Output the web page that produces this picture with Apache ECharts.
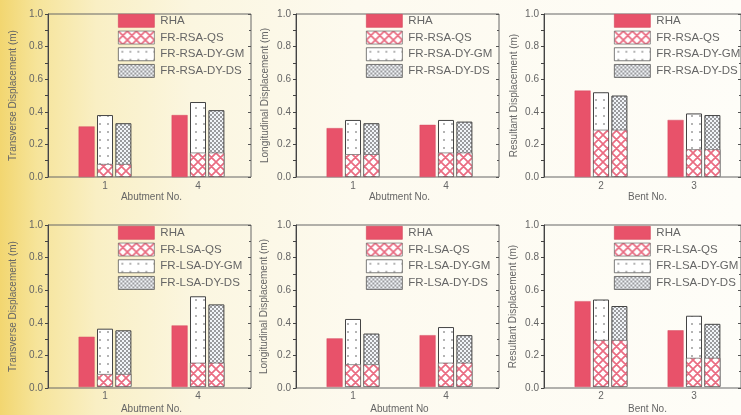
<!DOCTYPE html>
<html><head><meta charset="utf-8">
<script src="https://cdn.jsdelivr.net/npm/echarts@6/dist/echarts.min.js"></script>
<style>
html,body{margin:0;padding:0;width:741px;height:415px;overflow:hidden;
background:linear-gradient(to right,#f2d670 0%,#f6e49a 5%,#f9efc4 13%,#fbf6e0 26%,#fdfaef 48%,#fefdf8 100%);}
#c{width:741px;height:415px;}
</style></head><body><div id="c"></div>
<script>
// ---- data ----
const abutmentNos = ['1', '4'];
const bentNos = ['2', '3'];
const yTicks = [0.0, 0.2, 0.4, 0.6, 0.8, 1.0];

const legendRSA = ['RHA', 'FR-RSA-QS', 'FR-RSA-DY-GM', 'FR-RSA-DY-DS'];
const legendLSA = ['RHA', 'FR-LSA-QS', 'FR-LSA-DY-GM', 'FR-LSA-DY-DS'];

// RSA row
const rsaTransRHA = [0.31, 0.38];
const rsaTransQS  = [0.08, 0.15];
const rsaTransGM  = [0.38, 0.46];
const rsaTransDS  = [0.33, 0.41];

const rsaLongRHA = [0.30, 0.32];
const rsaLongQS  = [0.14, 0.15];
const rsaLongGM  = [0.35, 0.35];
const rsaLongDS  = [0.33, 0.34];

const rsaResRHA = [0.53, 0.35];
const rsaResQS  = [0.29, 0.17];
const rsaResGM  = [0.52, 0.39];
const rsaResDS  = [0.50, 0.38];

// LSA row
const lsaTransRHA = [0.31, 0.38];
const lsaTransQS  = [0.08, 0.15];
const lsaTransGM  = [0.36, 0.56];
const lsaTransDS  = [0.35, 0.51];

const lsaLongRHA = [0.30, 0.32];
const lsaLongQS  = [0.14, 0.15];
const lsaLongGM  = [0.42, 0.37];
const lsaLongDS  = [0.33, 0.32];

const lsaResRHA = [0.53, 0.35];
const lsaResQS  = [0.29, 0.18];
const lsaResGM  = [0.54, 0.44];
const lsaResDS  = [0.50, 0.39];

// ---- patterns ----
function tile(w, h, draw) {
  const c = document.createElement('canvas');
  c.width = w; c.height = h;
  draw(c.getContext('2d'));
  return c;
}
const crossTile = tile(9, 9, g => {
  g.fillStyle = '#ffffff'; g.fillRect(0, 0, 9, 9);
  g.strokeStyle = '#ea6c82'; g.lineWidth = 1.7;
  g.beginPath();
  for (const k of [-9, 0, 9]) {
    g.moveTo(k, 0); g.lineTo(k + 9, 9);
    g.moveTo(k + 9, 0); g.lineTo(k, 9);
  }
  g.stroke();
});
const sparseTile = tile(8, 8, g => {
  g.fillStyle = '#ffffff'; g.fillRect(0, 0, 8, 8);
  g.fillStyle = '#444';
  g.beginPath(); g.arc(4, 4, 0.75, 0, Math.PI * 2); g.fill();
});
const denseTile = tile(4, 4, g => {
  g.fillStyle = '#f2f5f9'; g.fillRect(0, 0, 4, 4);
  g.fillStyle = '#2a2a2a';
  g.beginPath(); g.arc(1, 1, 0.8, 0, Math.PI * 2); g.fill();
  g.beginPath(); g.arc(3, 3, 0.8, 0, Math.PI * 2); g.fill();
});
const RHA_COLOR = '#e8526a';
const QS_FILL = { image: crossTile, repeat: 'repeat' };
const GM_FILL = { image: sparseTile, repeat: 'repeat' };
const DS_FILL = { image: denseTile, repeat: 'repeat' };

// ---- panels ----
const panels = [
  { left: 48,  top: 14,  yName: 'Transverse Displacement (m)',   yGap: 30, xName: 'Abutment No.', xGap: 15, cats: abutmentNos, names: legendRSA, rha: rsaTransRHA, qs: rsaTransQS, gm: rsaTransGM, ds: rsaTransDS, legTop: 14 },
  { left: 296, top: 14,  yName: 'Longitudinal Displacement (m)', yGap: 26, xName: 'Abutment No.', xGap: 15, cats: abutmentNos, names: legendRSA, rha: rsaLongRHA, qs: rsaLongQS, gm: rsaLongGM, ds: rsaLongDS, legTop: 14 },
  { left: 544, top: 14,  yName: 'Resultant Displacement (m)',    yGap: 25, xName: 'Bent No.',     xGap: 15, cats: bentNos,     names: legendRSA, rha: rsaResRHA,  qs: rsaResQS,  gm: rsaResGM,  ds: rsaResDS,  legTop: 14 },
  { left: 48,  top: 225, yName: 'Transverse Displacement (m)',   yGap: 30, xName: 'Abutment No.', xGap: 17, cats: abutmentNos, names: legendLSA, rha: lsaTransRHA, qs: lsaTransQS, gm: lsaTransGM, ds: lsaTransDS, legTop: 226 },
  { left: 296, top: 225, yName: 'Longitudinal Displacement (m)', yGap: 27, xName: 'Abutment No',  xGap: 17, cats: abutmentNos, names: legendLSA, rha: lsaLongRHA, qs: lsaLongQS, gm: lsaLongGM, ds: lsaLongDS, legTop: 226 },
  { left: 544, top: 225, yName: 'Resultant Displacement (m)',    yGap: 26, xName: 'Bent No.',     xGap: 17, cats: bentNos,     names: legendLSA, rha: lsaResRHA,  qs: lsaResQS,  gm: lsaResGM,  ds: lsaResDS,  legTop: 226 }
];

const FW = 203, FH = 163;
const FONT = 'Liberation Sans, Arial, sans-serif';
const TXT = '#666666';

const grid = [], xAxis = [], yAxis = [], series = [], legend = [];
const barCommon = { type: 'bar', barWidth: 16, barGap: '15%', barCategoryGap: '20%', emphasis: { disabled: true }, silent: true };

panels.forEach((p, i) => {
  grid.push({ left: p.left, top: p.top, width: FW, height: FH, show: true, borderColor: '#666', borderWidth: 1, backgroundColor: 'transparent' });
  grid.push({ left: p.left + 10.5, top: p.top, width: 186, height: FH, show: false });
  const gF = 2 * i, gB = 2 * i + 1;
  xAxis.push({ type: 'value', gridIndex: gF, min: 0, max: 1, show: false });
  const xB = xAxis.length;
  xAxis.push({ type: 'category', gridIndex: gB, data: p.cats,
    axisLine: { show: false }, axisTick: { show: false },
    axisLabel: { margin: 4, color: TXT, fontSize: 10, fontFamily: FONT },
    name: p.xName, nameLocation: 'middle', nameGap: p.xGap,
    nameTextStyle: { color: TXT, fontSize: 10, fontFamily: FONT } });
  const xO = xAxis.length;
  xAxis.push({ type: 'category', gridIndex: gB, data: p.cats, show: false });
  yAxis.push({ type: 'value', gridIndex: gF, min: 0, max: 1, interval: 0.2,
    axisLine: { show: true, lineStyle: { color: '#444' } },
    axisTick: { show: true, inside: false, length: 3, lineStyle: { color: '#444' } },
    minorTick: { show: true, splitNumber: 2, length: 3, lineStyle: { color: '#444' } },
    splitLine: { show: false },
    axisLabel: { color: TXT, fontSize: 10, fontFamily: FONT, margin: 5, formatter: v => v.toFixed(1) },
    name: p.yName, nameLocation: 'middle', nameGap: p.yGap,
    nameTextStyle: { color: TXT, fontSize: 10, fontFamily: FONT } });
  yAxis.push({ type: 'value', gridIndex: gF, position: 'right', min: 0, max: 1, interval: 0.2,
    axisLine: { show: false }, axisLabel: { show: false }, splitLine: { show: false },
    axisTick: { show: true, inside: true, length: 3, lineStyle: { color: '#555' } },
    minorTick: { show: true, splitNumber: 2, length: 2, lineStyle: { color: '#555' } } });
  const yB = yAxis.length;
  yAxis.push({ type: 'value', gridIndex: gB, min: 0, max: 1, show: false });

  series.push(Object.assign({}, barCommon, { name: p.names[0], xAxisIndex: xB, yAxisIndex: yB, data: p.rha,
    itemStyle: { color: RHA_COLOR, borderColor: '#d44a60', borderWidth: 0.5 } }));
  series.push(Object.assign({}, barCommon, { name: p.names[2], xAxisIndex: xB, yAxisIndex: yB, data: p.gm,
    itemStyle: { color: GM_FILL, borderColor: '#444', borderWidth: 1 } }));
  series.push(Object.assign({}, barCommon, { name: p.names[3], xAxisIndex: xB, yAxisIndex: yB, data: p.ds,
    itemStyle: { color: DS_FILL, borderColor: '#444', borderWidth: 1 } }));
  series.push(Object.assign({}, barCommon, { name: '_slot', xAxisIndex: xO, yAxisIndex: yB, data: p.cats.map(() => '-') }));
  series.push(Object.assign({}, barCommon, { name: p.names[1], xAxisIndex: xO, yAxisIndex: yB, data: p.qs,
    itemStyle: { color: QS_FILL, borderColor: '#666', borderWidth: 0.7 } }));
  series.push(Object.assign({}, barCommon, { name: p.names[1], xAxisIndex: xO, yAxisIndex: yB, data: p.qs,
    itemStyle: { color: QS_FILL, borderColor: '#666', borderWidth: 0.7 } }));

  legend.push({ orient: 'vertical', left: p.left + 70, top: p.legTop, padding: 0,
    itemWidth: 36, itemHeight: 13, itemGap: 3, icon: 'rect', selectedMode: false,
    itemStyle: { borderWidth: 0.7 },
    data: p.names, textStyle: { color: TXT, fontSize: 11.5, lineHeight: 13, fontFamily: FONT, padding: [0, 0, 0, 1] } });
});

const chart = echarts.init(document.getElementById('c'), null, { renderer: 'canvas' });
chart.setOption({ animation: false, backgroundColor: 'transparent', grid, xAxis, yAxis, series, legend });
</script></body></html>
